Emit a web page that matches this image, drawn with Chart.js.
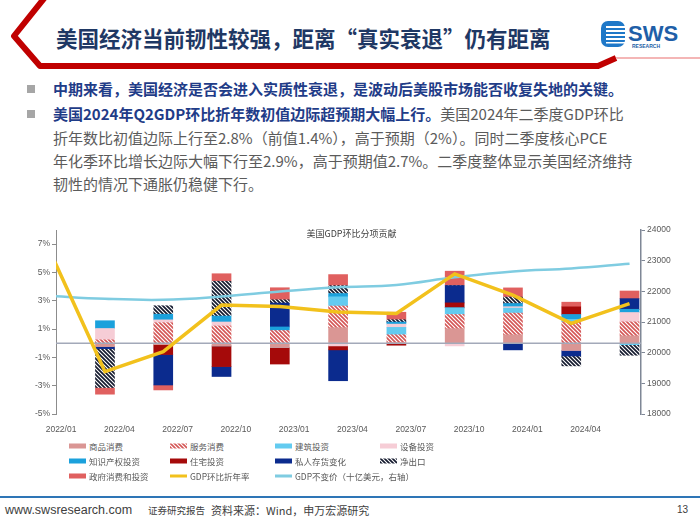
<!DOCTYPE html>
<html><head><meta charset="utf-8">
<script src="https://cdn.jsdelivr.net/npm/chart.js@4.4.1/dist/chart.umd.min.js"></script>
<style>
body{margin:0;width:700px;height:525px;position:relative;overflow:hidden;background:#fff;font-family:"Noto Sans CJK SC","Noto Sans",sans-serif;}
#title{position:absolute;left:56px;top:23px;font-size:21.5px;line-height:30px;font-weight:700;color:#1F3864;white-space:nowrap;}
.bullet{position:absolute;left:27px;width:8px;height:8px;background:#A6A6A6;}
.tl{position:absolute;left:53px;font-size:15px;line-height:20px;white-space:nowrap;color:#5B5B5B;}
.b{font-weight:700;color:#1F3C88;}
#chartWrap{position:absolute;left:0;top:215px;width:700px;height:222px;}
#legend{position:absolute;left:0;top:438px;width:700px;height:50px;font-size:8.5px;color:#595959;}
.li{position:absolute;display:flex;align-items:center;white-space:nowrap;height:12px;}
.li canvas{margin-right:3px;}
#footline{position:absolute;left:0;top:496px;width:700px;height:2px;background:#2E75B6;}
.ft{position:absolute;top:502px;line-height:16px;color:#404040;white-space:nowrap;}
</style></head>
<body>
<svg width="700" height="80" style="position:absolute;left:0;top:0">
  <path d="M46,-4 L14,36 L40,66 L598,66 L616,58" fill="none" stroke="#C00000" stroke-width="6" stroke-linejoin="round"/>
  <path d="M616,58 L700,58" fill="none" stroke="#F4B6B6" stroke-width="2"/>
  <rect x="601" y="21" width="24" height="26" rx="7" fill="#1F78C8"/>
  <rect x="606" y="26" width="19" height="2" fill="#fff"/>
  <rect x="606" y="30" width="19" height="2" fill="#fff"/>
  <rect x="606" y="34" width="19" height="2" fill="#fff"/>
  <rect x="606" y="38" width="19" height="2" fill="#fff"/>
  <rect x="606" y="42" width="19" height="1.5" fill="#fff"/>
  <text x="628" y="41" font-family="Liberation Sans, Arial" font-weight="700" font-size="22" fill="#1F5FA8">SWS</text>
  <text x="632" y="48" font-family="Liberation Sans, Arial" font-weight="700" font-size="5" fill="#1F5FA8">RESEARCH</text>
</svg>
<div id="title">美国经济当前韧性较强，距离“真实衰退”仍有距离</div>

<div class="bullet" style="top:85px"></div>
<div class="bullet" style="top:110px"></div>
<div class="tl" style="top:79px"><span class="b">中期来看，美国经济是否会进入实质性衰退，是波动后美股市场能否收复失地的关键。</span></div>
<div class="tl" style="top:104px"><span class="b">美国2024年Q2GDP环比折年数初值边际超预期大幅上行。</span>美国2024年二季度GDP环比</div>
<div class="tl" style="top:128px">折年数比初值边际上行至2.8%（前值1.4%），高于预期（2%）。同时二季度核心PCE</div>
<div class="tl" style="top:151px">年化季环比增长边际大幅下行至2.9%，高于预期值2.7%。二季度整体显示美国经济维持</div>
<div class="tl" style="top:174px">韧性的情况下通胀仍稳健下行。</div>

<div id="chartWrap"><canvas id="c" width="700" height="222"></canvas></div>
<div id="legend"></div>

<div id="footline"></div>
<div class="ft" style="left:5px;font-family:'Liberation Sans',Arial;font-size:12.5px">www.swsresearch.com</div>
<div class="ft" style="left:148px;font-size:9.5px">证券研究报告</div>
<div class="ft" style="left:211px;font-size:11px">资料来源：Wind，申万宏源研究</div>
<div class="ft" style="left:677px;font-size:10px;font-family:'Liberation Sans',Arial">13</div>

<script>
// ---------- data ----------
const quarters = ['2021Q4','2022Q1','2022Q2','2022Q3','2022Q4','2023Q1','2023Q2','2023Q3','2023Q4','2024Q1','2024Q2'];
const goodsConsumption      = [null,-0.24,-0.10,-0.19,-0.30, 1.10, 0.05, 1.03, 0.60,-0.50, 0.52];
const servicesConsumption   = [null, 0.24, 1.45, 1.22, 0.90, 1.53, 0.55, 1.00, 1.53, 1.50, 0.99];
const structuresInvestment  = [null, 0.00, 0.00, 0.00, 0.00, 0.65, 0.52, 0.47, 0.35, 0.18,-0.10];
const equipmentInvestment   = [null, 0.80, 0.20, 0.28, 0.00,-0.19, 0.23,-0.19, 0.10, 0.00, 0.66];
const ipInvestment          = [null, 0.55, 0.40, 0.42, 0.25, 0.23, 0.14, 0.00, 0.23, 0.35, 0.23];
const residentialInvestment = [null, 0.00,-0.70,-1.46,-1.17,-0.28,-0.14, 0.35, 0.00, 0.54, 0.00];
const inventoryChange       = [null,-0.14,-2.15,-0.70, 1.69,-2.18, 0.00, 1.22,-0.47,-0.40, 0.75];
const netExports            = [null,-2.75, 0.60, 2.46, 0.23, 0.56, 0.17, 0.00, 0.45,-0.70,-0.75];
const governmentSpending    = [null,-0.47,-0.35, 0.53, 0.85, 0.78, 0.53, 1.02, 0.65, 0.33, 0.54];
const gdpGrowthAnnualized   = [7.0,-2.0,-0.6, 2.7, 2.6, 2.2, 2.1, 4.9, 3.4, 1.4, 2.8];
const realGdpBillions       = [21860,21757,21725,21832,21994,22133,22210,22456,22650,22748,22900];
const xTickLabels = ['2022/01','2022/04','2022/07','2022/10','2023/01','2023/04','2023/07','2023/10','2024/01','2024/04'];
const leftTicks  = [-5,-3,-1,1,3,5,7];
const rightTicks = [18000,19000,20000,21000,22000,23000,24000];

// ---------- helpers ----------
// quarter position on a month axis (0 = 2022/01 label)
const quarterPos = i => i * 3 - 0.74;
const series = arr => arr.map((v, i) => ({x: quarterPos(i), y: v})).filter(p => p.y !== null);

function hatchCanvas(fg, bg, size, lw) {
  const c = document.createElement('canvas'); c.width = c.height = size;
  const g = c.getContext('2d');
  g.fillStyle = bg; g.fillRect(0, 0, size, size);
  g.strokeStyle = fg; g.lineWidth = lw;
  g.beginPath();
  g.moveTo(-1, -1); g.lineTo(size + 1, size + 1);
  g.moveTo(-1, size - 1); g.lineTo(1, size + 1);
  g.moveTo(size - 1, -1); g.lineTo(size + 1, 1);
  g.stroke();
  return c;
}
const pctx = document.createElement('canvas').getContext('2d');
const servicesHatch = pctx.createPattern(hatchCanvas('#D45656', '#FFFFFF', 4, 1.6), 'repeat');
const netExHatch = pctx.createPattern(hatchCanvas('#141A2E', '#FFFFFF', 4, 1.7), 'repeat');

const barDefs = [
  ['商品消费', goodsConsumption, '#DA9694'],
  ['服务消费', servicesConsumption, servicesHatch],
  ['建筑投资', structuresInvestment, '#63CBF0'],
  ['设备投资', equipmentInvestment, '#F6CDD6'],
  ['知识产权投资', ipInvestment, '#1BA1DC'],
  ['住宅投资', residentialInvestment, '#A50A0A'],
  ['私人存货变化', inventoryChange, '#0B2B8E'],
  ['净出口', netExports, netExHatch],
  ['政府消费和投资', governmentSpending, '#E0605F']
];

const datasets = barDefs.map(([label, arr, color]) => ({
  type: 'bar', label, data: series(arr), backgroundColor: color,
  borderWidth: 0, barThickness: 19, yAxisID: 'y', stack: 'contrib', order: 2
}));
datasets.push({
  type: 'line', label: 'GDP环比折年率', data: series(gdpGrowthAnnualized),
  borderColor: '#F2C11C', borderWidth: 3.5, pointRadius: 0, tension: 0,
  yAxisID: 'y', stack: 'growth', order: 0
});
datasets.push({
  type: 'line', label: 'GDP不变价（十亿美元，右轴）', data: series(realGdpBillions),
  borderColor: '#7FCCE1', borderWidth: 2.5, pointRadius: 0, tension: 0.4,
  yAxisID: 'y2', stack: 'real', order: 1
});

const tickFont = {family: "'Liberation Sans', Arial, sans-serif", size: 8.5};
const axisGray = '#8C8C8C';

const zeroLine = {
  id: 'zeroLine',
  afterDatasetDraw(chart, args) {
    if (args.meta.type === 'bar' && args.index === 0) {
      const y = chart.scales.y.getPixelForValue(0);
      const a = chart.chartArea, ctx = chart.ctx;
      ctx.save(); ctx.strokeStyle = '#A3A9B9'; ctx.lineWidth = 1.5;
      ctx.beginPath(); ctx.moveTo(a.left, y); ctx.lineTo(a.right, y); ctx.stroke(); ctx.restore();
    }
  }
};
const innerTitle = {
  id: 'innerTitle',
  afterDraw(chart) {
    const ctx = chart.ctx, a = chart.chartArea;
    ctx.save(); ctx.fillStyle = '#404040';
    ctx.font = "9px 'Noto Sans CJK SC', sans-serif";
    ctx.textAlign = 'center'; ctx.textBaseline = 'middle';
    ctx.fillText('美国GDP环比分项贡献', (a.left + a.right) / 2 + 3, a.top + 4);
    ctx.restore();
  }
};

new Chart(document.getElementById('c'), {
  type: 'bar',
  data: {datasets},
  options: {
    responsive: false, animation: false, devicePixelRatio: 1,
    layout: {padding: {top: 15, left: 0, right: 0, bottom: 0}},
    plugins: {legend: {display: false}, tooltip: {enabled: false}},
    scales: {
      x: {
        type: 'linear', min: -0.26, max: 29.85, stacked: true, offset: false,
        grid: {display: false, offset: false}, border: {display: false},
        afterBuildTicks: s => { s.ticks = xTickLabels.map((l, i) => ({value: i * 3})); },
        ticks: {autoSkip: false, maxRotation: 0, color: '#595959', font: tickFont, padding: 3,
                callback: (v, i) => xTickLabels[i]},
        afterFit: s => { s.height = 23; s.paddingLeft = 0; s.paddingRight = 0; }
      },
      y: {
        position: 'left', stacked: true, min: -5, max: 8,
        afterBuildTicks: s => { s.ticks = leftTicks.map(v => ({value: v})); },
        ticks: {color: '#595959', font: tickFont, padding: 2, callback: v => v + '%'},
        grid: {drawOnChartArea: false, tickLength: 4, color: axisGray},
        border: {color: axisGray, width: 1},
        afterFit: s => { s.width = 56; s.paddingTop = 0; s.paddingBottom = 0; }
      },
      y2: {
        position: 'right', min: 18000, max: 24000,
        afterBuildTicks: s => { s.ticks = rightTicks.map(v => ({value: v})); },
        ticks: {color: '#595959', font: tickFont, padding: 2, callback: v => String(v)},
        grid: {drawOnChartArea: false, tickLength: 4, color: '#7F8796'},
        border: {color: '#7F8796', width: 1.5},
        afterFit: s => { s.width = 59; s.paddingTop = 0; s.paddingBottom = 0; }
      }
    }
  },
  plugins: [zeroLine, innerTitle]
});

// ---------- legend (built from the datasets) ----------
const legendCols = [69, 170, 275, 380];
const legendRows = [8, 23, 38];
const leg = document.getElementById('legend');
datasets.forEach((ds, k) => {
  const item = document.createElement('div');
  item.className = 'li';
  item.style.left = legendCols[k % 4] + 'px';
  item.style.top = (legendRows[Math.floor(k / 4)] - 6) + 'px';
  const sw = document.createElement('canvas');
  sw.width = 17; sw.height = 6;
  const g = sw.getContext('2d');
  if (ds.type === 'bar') {
    g.fillStyle = ds.backgroundColor; g.fillRect(0, 0.5, 17, 5);
  } else {
    g.fillStyle = ds.borderColor; g.fillRect(0, 1.5, 17, 3);
  }
  item.appendChild(sw);
  const t = document.createElement('span'); t.textContent = ds.label;
  item.appendChild(t);
  leg.appendChild(item);
});
</script>
</body></html>
